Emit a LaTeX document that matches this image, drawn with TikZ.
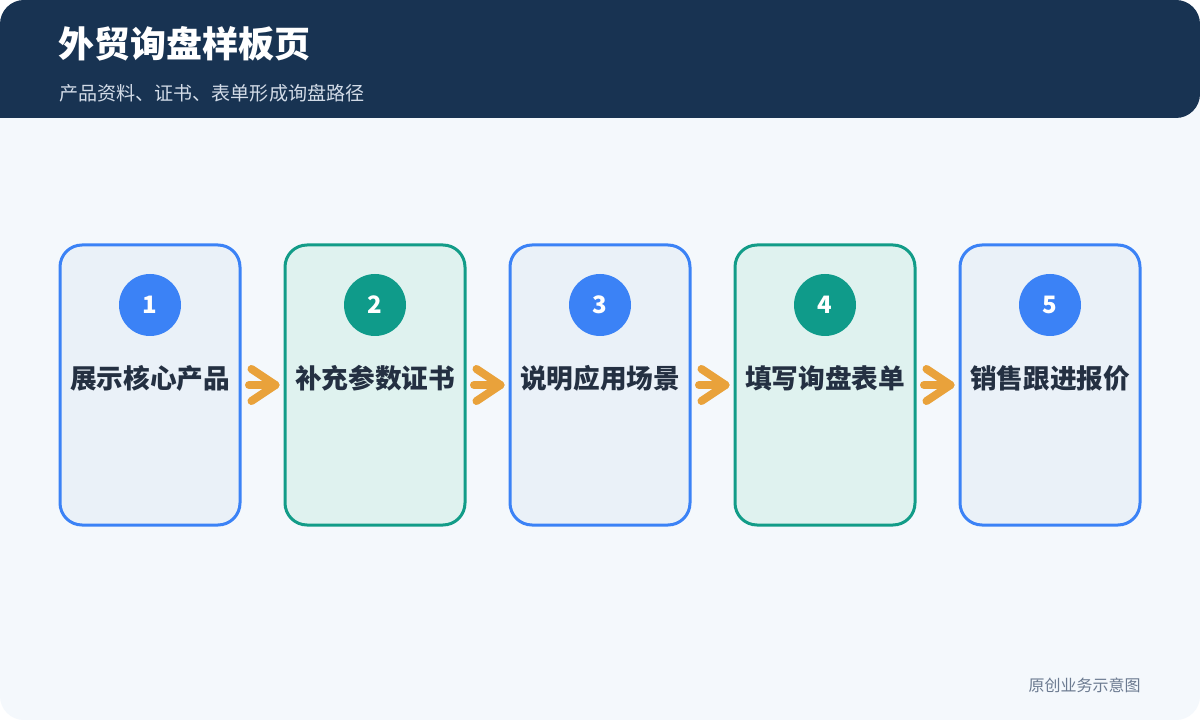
\documentclass[tikz,border=0pt]{standalone}
\usepackage{fontspec}
\newfontfamily\cjk{Noto Sans CJK SC}
\definecolor{navy}{HTML}{183352}
\definecolor{pagebg}{HTML}{F4F8FC}
\definecolor{blueline}{HTML}{3B82F6}
\definecolor{bluefill}{HTML}{EAF1F8}
\definecolor{tealline}{HTML}{129C88}
\definecolor{tealfill}{HTML}{DFF2EF}
\definecolor{tealdot}{HTML}{0F9B8A}
\definecolor{labeltext}{HTML}{243042}
\definecolor{subtext}{HTML}{D3DCE8}
\definecolor{foottext}{HTML}{6B7A90}
\definecolor{arrowc}{HTML}{E9A23B}
\begin{document}
\begin{tikzpicture}[x=0.75pt,y=-0.75pt,
  stepbox/.style={draw=#1line,fill=#1fill,line width=2.25pt,rounded corners=16.5pt,minimum width=135pt,minimum height=210pt,inner sep=0pt},
  numdot/.style={circle,fill=#1,minimum size=46.5pt,inner sep=0pt,text=white,font=\cjk\bfseries\fontsize{18}{20}\selectfont},
  steplabel/.style={text=labeltext,font=\cjk\bfseries\fontsize{20}{22}\selectfont,inner sep=0pt},
  flow/.style={draw=arrowc,line width=6pt,line cap=round,line join=round}]
\useasboundingbox (0,0) rectangle (1200,720);
\fill[white] (0,0) rectangle (1200,720);
\fill[pagebg,rounded corners=18pt] (0,0) rectangle (1200,720);
\fill[navy,rounded corners=18pt] (0,118) -- (0,0) -- (1200,0) -- (1200,118) [sharp corners] -- cycle;
\node[anchor=west,text=white,font=\cjk\bfseries\fontsize{27}{30}\selectfont,inner sep=0pt] (title) at (58,44) {外贸询盘样板页};
\node[anchor=west,text=subtext,font=\cjk\fontsize{14.3}{16}\selectfont,inner sep=0pt] (subtitle) at (59,93) {产品资料、证书、表单形成询盘路径};
\node[anchor=east,text=foottext,font=\cjk\fontsize{12}{14}\selectfont,inner sep=0pt] (foot) at (1141,685) {原创业务示意图};
\foreach \i/\x/\c/\t in {1/150/blue/展示核心产品,2/375/teal/补充参数证书,3/600/blue/说明应用场景,4/825/teal/填写询盘表单,5/1050/blue/销售跟进报价}{
  \node[stepbox=\c] (b\i) at (\x,385) {};
  \ifnum\i=2 \def\dc{tealdot}\else\ifnum\i=4 \def\dc{tealdot}\else\def\dc{blueline}\fi\fi
  \node[numdot=\dc] (n\i) at (\x,305) {\i};
  \node[steplabel] (l\i) at (\x,378) {\t};
}
\foreach \a/\b in {1/2,2/3,3/4,4/5}{
  \coordinate (s\a) at ([shift={(7.5,0)}]b\a.east);
  \coordinate (e\a) at ([shift={(-8,0)}]b\b.west);
  \draw[flow] (s\a) -- (e\a);
  \draw[flow] ([shift={(-24,-16)}]e\a) -- (e\a) -- ([shift={(-24,16)}]e\a);
}
\end{tikzpicture}
\end{document}
